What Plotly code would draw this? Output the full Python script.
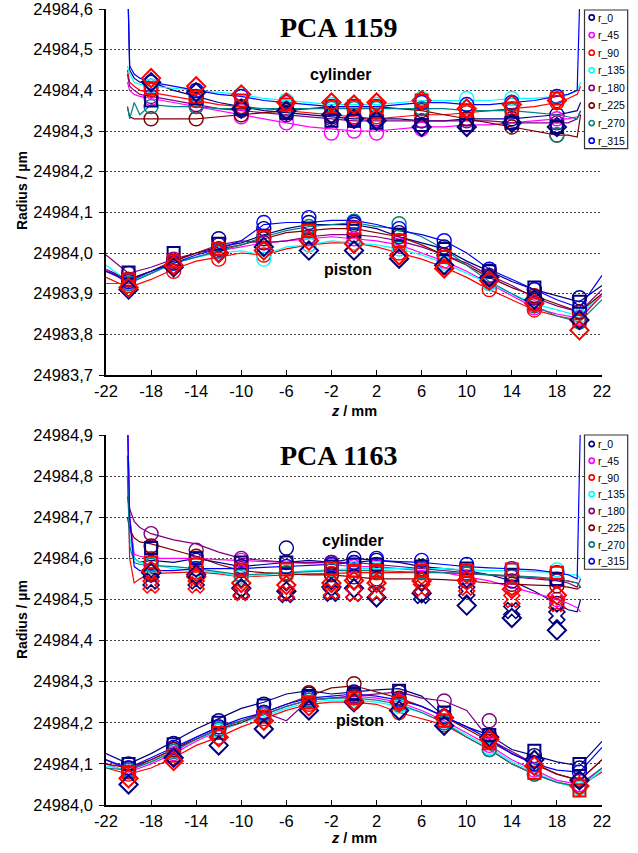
import plotly.graph_objects as go

# ---------------- DATA ----------------
DIRS = ["r_0", "r_45", "r_90", "r_135", "r_180", "r_225", "r_270", "r_315"]
COLORS = ["#000080", "#FF00FF", "#FF0000", "#00FFFF", "#800080", "#800000", "#008080", "#0000FF"]

x_tick_vals = [-22, -18, -14, -10, -6, -2, 2, 6, 10, 14, 18, 22]
x_tick_text = ["-22", "-18", "-14", "-10", "-6", "-2", "2", "6", "10", "14", "18", "22"]
y_top_vals = [24983.7, 24983.8, 24983.9, 24984.0, 24984.1, 24984.2, 24984.3, 24984.4, 24984.5, 24984.6]
y_top_text = ["24983,7", "24983,8", "24983,9", "24984,0", "24984,1", "24984,2", "24984,3", "24984,4", "24984,5", "24984,6"]
y_bot_vals = [24984.0, 24984.1, 24984.2, 24984.3, 24984.4, 24984.5, 24984.6, 24984.7, 24984.8, 24984.9]
y_bot_text = ["24984,0", "24984,1", "24984,2", "24984,3", "24984,4", "24984,5", "24984,6", "24984,7", "24984,8", "24984,9"]

z_cyl_line = [-20.1, -19.9, -19.5, -19, -18, -16, -14, -12, -10, -8, -6, -4, -2, 0, 2, 4, 6, 8, 10, 12, 14, 16, 18, 19, 19.8, 20.1]
z_pis_line = [-22, -20, -18, -16, -14, -12, -10, -8, -6, -4, -2, 0, 2, 4, 6, 8, 10, 12, 14, 16, 18, 20, 22]
z_cyl_mark = [-18, -14, -10, -6, -2, 0, 2, 6, 10, 14, 18]
z_pis_mark = [-20, -16, -12, -8, -4, 0, 4, 8, 12, 16, 20]

# PCA 1159 - cylinder profiles
top_cyl_lines = {
    "r_0":   [24984.70, 24984.45, 24984.43, 24984.42, 24984.42, 24984.40, 24984.385, 24984.37, 24984.36, 24984.35, 24984.345, 24984.34, 24984.335, 24984.33, 24984.33, 24984.33, 24984.325, 24984.325, 24984.33, 24984.33, 24984.33, 24984.335, 24984.34, 24984.345, 24984.35, 24984.37],
    "r_45":  [24984.42, 24984.40, 24984.39, 24984.385, 24984.38, 24984.37, 24984.36, 24984.35, 24984.34, 24984.33, 24984.32, 24984.31, 24984.305, 24984.30, 24984.30, 24984.305, 24984.31, 24984.31, 24984.315, 24984.315, 24984.32, 24984.325, 24984.33, 24984.33, 24984.335, 24984.34],
    "r_90":  [24984.45, 24984.42, 24984.41, 24984.40, 24984.395, 24984.385, 24984.375, 24984.365, 24984.36, 24984.355, 24984.35, 24984.345, 24984.34, 24984.335, 24984.33, 24984.335, 24984.34, 24984.34, 24984.345, 24984.35, 24984.355, 24984.36, 24984.37, 24984.38, 24984.39, 24984.41],
    "r_135": [24984.46, 24984.44, 24984.42, 24984.415, 24984.41, 24984.405, 24984.40, 24984.395, 24984.39, 24984.38, 24984.375, 24984.37, 24984.365, 24984.365, 24984.365, 24984.37, 24984.375, 24984.375, 24984.375, 24984.375, 24984.38, 24984.38, 24984.385, 24984.39, 24984.40, 24984.42],
    "r_180": [24984.44, 24984.41, 24984.40, 24984.39, 24984.385, 24984.375, 24984.365, 24984.355, 24984.35, 24984.345, 24984.34, 24984.335, 24984.33, 24984.325, 24984.325, 24984.325, 24984.325, 24984.325, 24984.325, 24984.325, 24984.32, 24984.32, 24984.32, 24984.32, 24984.33, 24984.35],
    "r_225": [24984.36, 24984.335, 24984.33, 24984.33, 24984.33, 24984.33, 24984.33, 24984.335, 24984.34, 24984.345, 24984.35, 24984.355, 24984.36, 24984.36, 24984.36, 24984.355, 24984.35, 24984.34, 24984.33, 24984.32, 24984.31, 24984.30, 24984.29, 24984.29, 24984.285, 24984.34],
    "r_270": [24984.36, 24984.33, 24984.37, 24984.34, 24984.365, 24984.36, 24984.36, 24984.355, 24984.355, 24984.355, 24984.355, 24984.355, 24984.355, 24984.355, 24984.355, 24984.355, 24984.355, 24984.355, 24984.35, 24984.35, 24984.35, 24984.345, 24984.34, 24984.335, 24984.33, 24984.35],
    "r_315": [24984.70, 24984.46, 24984.44, 24984.43, 24984.42, 24984.41, 24984.40, 24984.39, 24984.385, 24984.375, 24984.37, 24984.365, 24984.36, 24984.36, 24984.36, 24984.365, 24984.37, 24984.37, 24984.365, 24984.365, 24984.37, 24984.375, 24984.385, 24984.39, 24984.40, 24984.70],
}
# PCA 1159 - piston profiles
top_pis_lines = {
    "r_0":   [24983.96, 24983.935, 24983.955, 24983.98, 24984.0, 24984.015, 24984.025, 24984.045, 24984.06, 24984.07, 24984.07, 24984.07, 24984.06, 24984.04, 24984.025, 24984.01, 24983.98, 24983.955, 24983.93, 24983.91, 24983.895, 24983.88, 24983.92],
    "r_45":  [24983.96, 24983.925, 24983.95, 24983.975, 24983.99, 24984.005, 24984.015, 24984.025, 24984.03, 24984.035, 24984.04, 24984.035, 24984.03, 24984.02, 24984.0, 24983.98, 24983.955, 24983.925, 24983.895, 24983.865, 24983.85, 24983.84, 24983.895],
    "r_90":  [24983.94, 24983.915, 24983.935, 24983.96, 24983.98, 24983.99, 24984.0, 24983.995, 24984.01, 24984.02, 24984.025, 24984.025, 24984.015, 24984.0, 24983.985, 24983.965, 24983.94, 24983.91, 24983.885, 24983.86, 24983.845, 24983.835, 24983.9],
    "r_135": [24983.97, 24983.93, 24983.95, 24983.975, 24983.99, 24984.0, 24984.005, 24983.995, 24984.015, 24984.02, 24984.03, 24984.025, 24984.02, 24984.01, 24983.995, 24983.975, 24983.95, 24983.925, 24983.9, 24983.875, 24983.86, 24983.845, 24983.9],
    "r_180": [24983.995, 24983.95, 24983.965, 24983.985, 24984.0, 24984.02, 24984.03, 24984.025, 24984.03, 24984.04, 24984.045, 24984.045, 24984.04, 24984.03, 24984.015, 24983.995, 24983.975, 24983.945, 24983.92, 24983.89, 24983.87, 24983.855, 24983.91],
    "r_225": [24983.955, 24983.935, 24983.955, 24983.98, 24984.0, 24984.01, 24984.02, 24984.035, 24984.05, 24984.055, 24984.06, 24984.06, 24984.05, 24984.04, 24984.02, 24983.995, 24983.97, 24983.94, 24983.915, 24983.895, 24983.875, 24983.855, 24983.9],
    "r_270": [24983.925, 24983.925, 24983.95, 24983.975, 24983.99, 24984.005, 24984.02, 24984.04, 24984.055, 24984.065, 24984.07, 24984.075, 24984.065, 24984.06, 24984.04, 24984.01, 24983.97, 24983.93, 24983.9, 24983.87, 24983.845, 24983.83, 24983.885],
    "r_315": [24983.955, 24983.93, 24983.955, 24983.975, 24983.995, 24984.01, 24984.03, 24984.07, 24984.075, 24984.075, 24984.08, 24984.08, 24984.07, 24984.055, 24984.045, 24984.03, 24984.0, 24983.96, 24983.935, 24983.91, 24983.885, 24983.865, 24983.945],
}
# PCA 1163 - cylinder profiles
bot_cyl_lines = {
    "r_0":   [24984.95, 24984.70, 24984.60, 24984.59, 24984.595, 24984.59, 24984.60, 24984.59, 24984.58, 24984.585, 24984.59, 24984.595, 24984.59, 24984.60, 24984.595, 24984.59, 24984.58, 24984.575, 24984.57, 24984.56, 24984.545, 24984.52, 24984.49, 24984.475, 24984.47, 24984.50],
    "r_45":  [24984.95, 24984.70, 24984.61, 24984.605, 24984.60, 24984.60, 24984.60, 24984.597, 24984.595, 24984.592, 24984.59, 24984.587, 24984.585, 24984.58, 24984.58, 24984.575, 24984.57, 24984.565, 24984.555, 24984.545, 24984.53, 24984.515, 24984.50, 24984.49, 24984.48, 24984.47],
    "r_90":  [24984.85, 24984.60, 24984.54, 24984.55, 24984.563, 24984.565, 24984.567, 24984.562, 24984.555, 24984.557, 24984.56, 24984.562, 24984.563, 24984.565, 24984.565, 24984.565, 24984.565, 24984.565, 24984.562, 24984.56, 24984.557, 24984.553, 24984.548, 24984.545, 24984.54, 24984.53],
    "r_135": [24984.80, 24984.65, 24984.60, 24984.59, 24984.585, 24984.575, 24984.57, 24984.565, 24984.555, 24984.56, 24984.565, 24984.57, 24984.572, 24984.575, 24984.575, 24984.575, 24984.575, 24984.575, 24984.572, 24984.57, 24984.57, 24984.567, 24984.565, 24984.56, 24984.56, 24984.55],
    "r_180": [24984.75, 24984.72, 24984.69, 24984.675, 24984.66, 24984.645, 24984.635, 24984.615, 24984.60, 24984.595, 24984.59, 24984.59, 24984.59, 24984.59, 24984.585, 24984.58, 24984.575, 24984.57, 24984.565, 24984.56, 24984.555, 24984.55, 24984.545, 24984.54, 24984.53, 24984.55],
    "r_225": [24984.70, 24984.67, 24984.65, 24984.64, 24984.635, 24984.62, 24984.605, 24984.585, 24984.57, 24984.565, 24984.563, 24984.56, 24984.56, 24984.555, 24984.55, 24984.55, 24984.55, 24984.548, 24984.545, 24984.54, 24984.537, 24984.535, 24984.533, 24984.53, 24984.525, 24984.53],
    "r_270": [24984.80, 24984.63, 24984.59, 24984.585, 24984.583, 24984.58, 24984.575, 24984.568, 24984.56, 24984.562, 24984.565, 24984.567, 24984.57, 24984.57, 24984.57, 24984.568, 24984.567, 24984.565, 24984.563, 24984.56, 24984.557, 24984.555, 24984.55, 24984.545, 24984.54, 24984.53],
    "r_315": [24984.95, 24984.70, 24984.58, 24984.57, 24984.57, 24984.57, 24984.575, 24984.575, 24984.575, 24984.578, 24984.58, 24984.583, 24984.585, 24984.59, 24984.595, 24984.592, 24984.59, 24984.585, 24984.58, 24984.577, 24984.575, 24984.572, 24984.565, 24984.56, 24984.55, 24984.95],
}
# PCA 1163 - piston profiles
bot_pis_lines = {
    "r_0":   [24984.125, 24984.1, 24984.125, 24984.155, 24984.185, 24984.21, 24984.235, 24984.25, 24984.27, 24984.278, 24984.27, 24984.275, 24984.28, 24984.283, 24984.265, 24984.215, 24984.19, 24984.17, 24984.135, 24984.12, 24984.105, 24984.095, 24984.155],
    "r_45":  [24984.1, 24984.08, 24984.1, 24984.125, 24984.155, 24984.18, 24984.2, 24984.22, 24984.24, 24984.255, 24984.26, 24984.265, 24984.26, 24984.25, 24984.23, 24984.205, 24984.175, 24984.145, 24984.11, 24984.085, 24984.06, 24984.05, 24984.09],
    "r_90":  [24984.09, 24984.075, 24984.09, 24984.115, 24984.145, 24984.165, 24984.19, 24984.21, 24984.23, 24984.245, 24984.25, 24984.25, 24984.245, 24984.225, 24984.21, 24984.195, 24984.165, 24984.135, 24984.1, 24984.075, 24984.055, 24984.045, 24984.08],
    "r_135": [24984.095, 24984.085, 24984.105, 24984.13, 24984.16, 24984.18, 24984.2, 24984.215, 24984.235, 24984.25, 24984.255, 24984.255, 24984.25, 24984.24, 24984.225, 24984.2, 24984.17, 24984.14, 24984.105, 24984.08, 24984.055, 24984.04, 24984.085],
    "r_180": [24984.11, 24984.085, 24984.11, 24984.135, 24984.165, 24984.19, 24984.205, 24984.225, 24984.205, 24984.255, 24984.26, 24984.265, 24984.27, 24984.275, 24984.26, 24984.253, 24984.23, 24984.16, 24984.13, 24984.1, 24984.075, 24984.06, 24984.11],
    "r_225": [24984.1, 24984.09, 24984.11, 24984.135, 24984.16, 24984.185, 24984.2, 24984.225, 24984.245, 24984.265, 24984.285, 24984.29, 24984.275, 24984.26, 24984.24, 24984.215, 24984.185, 24984.155, 24984.125, 24984.1, 24984.075, 24984.06, 24984.11],
    "r_270": [24984.09, 24984.085, 24984.105, 24984.13, 24984.16, 24984.185, 24984.205, 24984.22, 24984.24, 24984.255, 24984.26, 24984.26, 24984.255, 24984.245, 24984.225, 24984.2, 24984.165, 24984.135, 24984.1, 24984.075, 24984.055, 24984.045, 24984.09],
    "r_315": [24984.11, 24984.09, 24984.115, 24984.14, 24984.165, 24984.19, 24984.21, 24984.225, 24984.245, 24984.26, 24984.265, 24984.27, 24984.265, 24984.255, 24984.24, 24984.215, 24984.19, 24984.16, 24984.125, 24984.1, 24984.085, 24984.08, 24984.14],
}

# Circle markers (one series per direction)
top_cyl_circles = {
    "r_0":   [24984.41, 24984.385, 24984.36, 24984.345, 24984.335, 24984.33, 24984.33, 24984.325, 24984.33, 24984.33, 24984.34],
    "r_45":  [24984.38, 24984.36, 24984.335, 24984.32, 24984.295, 24984.30, 24984.295, 24984.305, 24984.315, 24984.32, 24984.33],
    "r_90":  [24984.40, 24984.375, 24984.36, 24984.35, 24984.34, 24984.335, 24984.335, 24984.34, 24984.345, 24984.355, 24984.37],
    "r_135": [24984.41, 24984.40, 24984.39, 24984.375, 24984.365, 24984.365, 24984.365, 24984.38, 24984.38, 24984.38, 24984.385],
    "r_180": [24984.385, 24984.365, 24984.35, 24984.34, 24984.33, 24984.325, 24984.325, 24984.325, 24984.325, 24984.32, 24984.32],
    "r_225": [24984.33, 24984.33, 24984.34, 24984.35, 24984.36, 24984.36, 24984.36, 24984.35, 24984.33, 24984.31, 24984.29],
    "r_270": [24984.36, 24984.36, 24984.355, 24984.355, 24984.355, 24984.355, 24984.355, 24984.355, 24984.35, 24984.35, 24984.29],
    "r_315": [24984.42, 24984.40, 24984.385, 24984.37, 24984.36, 24984.36, 24984.36, 24984.37, 24984.365, 24984.37, 24984.385],
}
top_pis_circles = {
    "r_0":   [24983.935, 24983.98, 24984.035, 24984.06, 24984.075, 24984.07, 24984.05, 24984.015, 24983.955, 24983.91, 24983.89],
    "r_45":  [24983.925, 24983.975, 24984.005, 24984.025, 24984.035, 24984.035, 24984.02, 24983.98, 24983.925, 24983.865, 24983.84],
    "r_90":  [24983.92, 24983.955, 24983.985, 24983.995, 24984.02, 24984.025, 24984.0, 24983.965, 24983.91, 24983.86, 24983.835],
    "r_135": [24983.93, 24983.975, 24984.0, 24983.985, 24984.02, 24984.025, 24984.01, 24983.975, 24983.925, 24983.875, 24983.845],
    "r_180": [24983.95, 24983.985, 24984.02, 24984.025, 24984.04, 24984.045, 24984.03, 24983.995, 24983.945, 24983.89, 24983.855],
    "r_225": [24983.935, 24983.98, 24984.01, 24984.035, 24984.055, 24984.06, 24984.04, 24983.995, 24983.94, 24983.895, 24983.855],
    "r_270": [24983.925, 24983.975, 24984.005, 24984.04, 24984.065, 24984.078, 24984.072, 24984.01, 24983.93, 24983.87, 24983.83],
    "r_315": [24983.93, 24983.975, 24984.01, 24984.075, 24984.087, 24984.075, 24984.06, 24984.03, 24983.96, 24983.91, 24983.865],
}
bot_cyl_circles = {
    "r_0":   [24984.59, 24984.595, 24984.58, 24984.625, 24984.59, 24984.6, 24984.595, 24984.58, 24984.57, 24984.545, 24984.49],
    "r_45":  [24984.6, 24984.6, 24984.595, 24984.59, 24984.585, 24984.58, 24984.58, 24984.57, 24984.555, 24984.53, 24984.5],
    "r_90":  [24984.56, 24984.567, 24984.555, 24984.56, 24984.563, 24984.565, 24984.565, 24984.565, 24984.562, 24984.557, 24984.548],
    "r_135": [24984.585, 24984.57, 24984.555, 24984.565, 24984.572, 24984.575, 24984.575, 24984.575, 24984.572, 24984.57, 24984.572],
    "r_180": [24984.66, 24984.62, 24984.6, 24984.59, 24984.59, 24984.59, 24984.585, 24984.575, 24984.565, 24984.555, 24984.545],
    "r_225": [24984.63, 24984.605, 24984.57, 24984.563, 24984.56, 24984.555, 24984.55, 24984.55, 24984.545, 24984.537, 24984.533],
    "r_270": [24984.583, 24984.575, 24984.56, 24984.565, 24984.57, 24984.57, 24984.57, 24984.567, 24984.563, 24984.557, 24984.55],
    "r_315": [24984.57, 24984.575, 24984.575, 24984.58, 24984.585, 24984.59, 24984.6, 24984.595, 24984.585, 24984.575, 24984.565],
}
bot_pis_circles = {
    "r_0":   [24984.1, 24984.15, 24984.205, 24984.245, 24984.27, 24984.275, 24984.275, 24984.215, 24984.17, 24984.12, 24984.09],
    "r_45":  [24984.08, 24984.125, 24984.18, 24984.22, 24984.255, 24984.265, 24984.25, 24984.205, 24984.145, 24984.085, 24984.05],
    "r_90":  [24984.075, 24984.115, 24984.165, 24984.21, 24984.245, 24984.25, 24984.225, 24984.195, 24984.135, 24984.075, 24984.045],
    "r_135": [24984.085, 24984.13, 24984.18, 24984.215, 24984.25, 24984.255, 24984.24, 24984.2, 24984.14, 24984.08, 24984.04],
    "r_180": [24984.085, 24984.135, 24984.19, 24984.225, 24984.255, 24984.265, 24984.275, 24984.253, 24984.205, 24984.1, 24984.06],
    "r_225": [24984.09, 24984.135, 24984.185, 24984.225, 24984.273, 24984.295, 24984.26, 24984.215, 24984.155, 24984.1, 24984.06],
    "r_270": [24984.085, 24984.13, 24984.185, 24984.22, 24984.255, 24984.26, 24984.245, 24984.2, 24984.135, 24984.075, 24984.045],
    "r_315": [24984.09, 24984.14, 24984.19, 24984.225, 24984.26, 24984.27, 24984.255, 24984.215, 24984.16, 24984.1, 24984.08],
}

# Square / diamond / cross markers (navy and red)
top_cyl_sq_navy = [24984.375, 24984.38, 24984.355, 24984.345, 24984.325, 24984.325, 24984.32, 24984.315, 24984.315, 24984.32, 24984.31]
top_cyl_sq_red = [24984.405, 24984.385, 24984.375, 24984.365, 24984.36, 24984.36, 24984.36, 24984.375, 24984.35, 24984.355, 24984.38]
top_cyl_dm_navy = [24984.42, 24984.395, 24984.355, 24984.35, 24984.34, 24984.33, 24984.325, 24984.31, 24984.31, 24984.32, 24984.31]
top_cyl_dm_red = [24984.43, 24984.41, 24984.39, 24984.37, 24984.37, 24984.365, 24984.37, 24984.375, 24984.355, 24984.365, 24984.375]
top_pis_sq_navy = [24983.952, 24984.0, 24984.023, 24984.042, 24984.06, 24984.055, 24984.045, 24984.01, 24983.955, 24983.915, 24983.88]
top_pis_sq_red = [24983.935, 24983.98, 24984.01, 24984.04, 24984.055, 24984.062, 24984.03, 24983.99, 24983.935, 24983.875, 24983.834]
top_pis_dm_navy = [24983.91, 24983.965, 24984.0, 24984.015, 24984.006, 24984.006, 24983.986, 24983.97, 24983.94, 24983.885, 24983.835]
top_pis_dm_red = [24983.915, 24983.97, 24984.0, 24984.006, 24984.03, 24984.023, 24983.994, 24983.962, 24983.932, 24983.876, 24983.81]

bot_cyl_sq_navy = [24984.625, 24984.6, 24984.59, 24984.59, 24984.58, 24984.585, 24984.585, 24984.58, 24984.575, 24984.56, 24984.55]
bot_cyl_sq_red = [24984.59, 24984.585, 24984.573, 24984.573, 24984.575, 24984.57, 24984.57, 24984.57, 24984.57, 24984.573, 24984.565]
bot_cyl_dm_navy = [24984.565, 24984.56, 24984.527, 24984.52, 24984.53, 24984.527, 24984.505, 24984.515, 24984.485, 24984.455, 24984.425]
bot_cyl_dm_red = [24984.57, 24984.555, 24984.54, 24984.535, 24984.54, 24984.546, 24984.54, 24984.545, 24984.546, 24984.525, 24984.51]
bot_cyl_x_navy = [24984.545, 24984.545, 24984.52, 24984.512, 24984.515, 24984.515, 24984.515, 24984.51, 24984.52, 24984.473, 24984.46]
bot_cyl_x_red = [24984.535, 24984.535, 24984.517, 24984.515, 24984.52, 24984.515, 24984.517, 24984.527, 24984.53, 24984.5, 24984.49]
bot_pis_sq_navy = [24984.1, 24984.148, 24984.2, 24984.242, 24984.265, 24984.27, 24984.278, 24984.225, 24984.17, 24984.132, 24984.1]
bot_pis_sq_red = [24984.08, 24984.12, 24984.175, 24984.215, 24984.25, 24984.26, 24984.25, 24984.205, 24984.15, 24984.078, 24984.035]
bot_pis_dm_navy = [24984.05, 24984.115, 24984.145, 24984.185, 24984.23, 24984.25, 24984.23, 24984.193, 24984.165, 24984.11, 24984.06]
bot_pis_dm_red = [24984.065, 24984.107, 24984.165, 24984.205, 24984.24, 24984.253, 24984.25, 24984.212, 24984.16, 24984.095, 24984.046]

# ---------------- LAYOUT GEOMETRY ----------------
W, H = 638, 853
ML, MR, MT, MB = 106, 10, 9, 48
PW, PH = W - ML - MR, H - MT - MB


def fx(px):
    return (px - ML) / PW


def fy(py):
    return 1 - (py - MT) / PH


NAVY, RED = "#000080", "#FF0000"
FONT = "Liberation Sans, Arial, sans-serif"
SERIF = "Liberation Serif, Times New Roman, serif"

fig = go.Figure()

panels = [
    ("x", "y", top_cyl_lines, top_pis_lines, top_cyl_circles, top_pis_circles,
     [(top_cyl_sq_navy, top_pis_sq_navy, "square-open", NAVY, 12),
      (top_cyl_sq_red, top_pis_sq_red, "square-open", RED, 12),
      (top_cyl_dm_navy, top_pis_dm_navy, "diamond-open", NAVY, 14),
      (top_cyl_dm_red, top_pis_dm_red, "diamond-open", RED, 14)], []),
    ("x2", "y2", bot_cyl_lines, bot_pis_lines, bot_cyl_circles, bot_pis_circles,
     [(bot_cyl_sq_navy, bot_pis_sq_navy, "square-open", NAVY, 12),
      (bot_cyl_sq_red, bot_pis_sq_red, "square-open", RED, 12),
      (bot_cyl_dm_navy, bot_pis_dm_navy, "diamond-open", NAVY, 14),
      (bot_cyl_dm_red, bot_pis_dm_red, "diamond-open", RED, 14)],
     [(bot_cyl_x_navy, NAVY), (bot_cyl_x_red, RED)]),
]

for xa, ya, cyl_l, pis_l, cyl_c, pis_c, extra, crosses in panels:
    for d, c in zip(DIRS, COLORS):
        fig.add_trace(go.Scatter(x=z_cyl_line, y=cyl_l[d], mode="lines", xaxis=xa, yaxis=ya,
                                 line=dict(color=c, width=1.2), showlegend=False, hoverinfo="skip"))
        fig.add_trace(go.Scatter(x=z_pis_line, y=pis_l[d], mode="lines", xaxis=xa, yaxis=ya,
                                 line=dict(color=c, width=1.2), showlegend=False, hoverinfo="skip"))
    for d, c in zip(DIRS, COLORS):
        fig.add_trace(go.Scatter(x=z_cyl_mark + z_pis_mark, y=cyl_c[d] + pis_c[d], mode="markers",
                                 xaxis=xa, yaxis=ya, name=d, showlegend=False,
                                 marker=dict(symbol="circle-open", size=14, color=c, line=dict(width=1.4, color=c))))
    for vc, vp, sym, col, sz in extra:
        fig.add_trace(go.Scatter(x=z_cyl_mark + z_pis_mark, y=vc + vp, mode="markers",
                                 xaxis=xa, yaxis=ya, showlegend=False,
                                 marker=dict(symbol=sym, size=sz, color=col, line=dict(width=2, color=col))))
    for vc, col in crosses:
        fig.add_trace(go.Scatter(x=z_cyl_mark, y=vc, mode="markers", xaxis=xa, yaxis=ya, showlegend=False,
                                 marker=dict(symbol="x-open", size=14, color=col, line=dict(width=1.6, color=col))))

axis_common = dict(showline=True, linecolor="black", linewidth=1.5, zeroline=False, automargin=False,
                   ticklabeloverflow="allow",
                   tickfont=dict(family=FONT, size=16.5, color="black"))
xcommon = dict(axis_common, range=[-22, 22], tickmode="array", tickvals=x_tick_vals, ticktext=x_tick_text,
               ticks="inside", ticklen=5, tickcolor="black", showgrid=False,
               domain=[0, fx(602)])
ycommon = dict(axis_common, ticks="outside", ticklen=5, tickcolor="black", showgrid=True,
               gridcolor="#444444", griddash="2px,2px", gridwidth=1, tickmode="array",
               ticklabelstandoff=3)

fig.update_layout(
    width=W, height=H, margin=dict(l=ML, r=MR, t=MT, b=MB, autoexpand=False),
    paper_bgcolor="white", plot_bgcolor="white", showlegend=False,
    xaxis=dict(xcommon, anchor="y"),
    yaxis=dict(ycommon, anchor="x", range=[24983.7, 24984.6], tickvals=y_top_vals, ticktext=y_top_text,
               domain=[fy(375), 1]),
    xaxis2=dict(xcommon, anchor="y2"),
    yaxis2=dict(ycommon, anchor="x2", range=[24984.0, 24984.9], tickvals=y_bot_vals, ticktext=y_bot_text,
                domain=[0, fy(435)]),
)

ann = []
shapes = []


def text(px, py, s, size, family=FONT, xanchor="center", angle=0, color="black"):
    ann.append(dict(x=fx(px), y=fy(py), xref="paper", yref="paper", text=s, showarrow=False,
                    xanchor=xanchor, yanchor="middle", textangle=angle,
                    font=dict(family=family, size=size, color=color)))


text(338, 27, "<b>PCA 1159</b>", 28, family=SERIF)
text(338, 455, "<b>PCA 1163</b>", 28, family=SERIF)
text(340, 75, "<b>cylinder</b>", 16)
text(348, 270, "<b>piston</b>", 16)
text(352, 540, "<b>cylinder</b>", 16)
text(360, 720, "<b>piston</b>", 16)
text(354, 411, "<b><i>z</i> / mm</b>", 14.5)
text(354, 838, "<b><i>z</i> / mm</b>", 14.5)
text(22, 191, "<b>Radius / µm</b>", 14, angle=-90)
text(22, 620, "<b>Radius / µm</b>", 14, angle=-90)

# legend boxes
for top, first, step in [(10, 17.5, 17.6), (435, 444, 16.75)]:
    bottom = first + 7 * step + 8
    shapes.append(dict(type="rect", xref="paper", yref="paper", x0=fx(584.5), x1=fx(627.7),
                       y0=fy(bottom), y1=fy(top), line=dict(color="#333333", width=1.2),
                       fillcolor="white", layer="above"))
    for i, (d, c) in enumerate(zip(DIRS, COLORS)):
        cy = first + i * step
        shapes.append(dict(type="circle", xref="paper", yref="paper", xsizemode="pixel", ysizemode="pixel",
                           xanchor=fx(591.7), yanchor=fy(cy), x0=-2.6, x1=2.6, y0=-2.6, y1=2.6,
                           line=dict(color=c, width=1.6), layer="above"))
        text(595.5, cy, d, 10.5, xanchor="left")

fig.update_layout(annotations=ann, shapes=shapes)
fig.write_html("out.html", config={"displayModeBar": False},
               post_script="document.body.style.margin='0px';")
